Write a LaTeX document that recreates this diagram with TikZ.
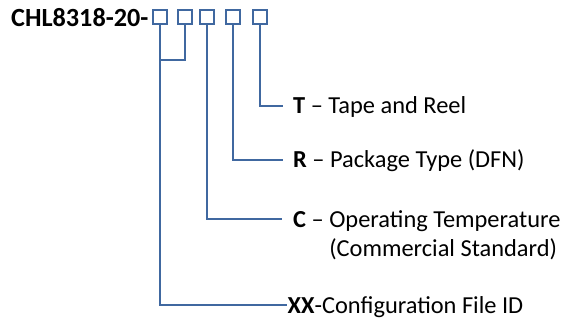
\documentclass[tikz,border=0pt]{standalone}
\usepackage{fontspec}
\setmainfont{Carlito}
\definecolor{lineblue}{RGB}{64,104,160}
\begin{document}
\begin{tikzpicture}[x=1pt,y=-1pt,
  box/.style={draw=lineblue,line width=2.2pt,minimum width=14pt,minimum height=14pt,inner sep=0pt},
  conn/.style={draw=lineblue,line width=2.6pt},
  lbl/.style={anchor=base west,inner sep=0pt,font=\fontsize{24.4}{29}\selectfont},
  ttl/.style={anchor=base west,inner sep=0pt,font=\fontsize{26.2}{31}\selectfont\bfseries}]
\useasboundingbox (0,0) rectangle (561,320);
\node[ttl] (title) at (11,27) {CHL8318-20-};
\node[box] (b1) at (160,17) {};
\node[box] (b2) at (185,17) {};
\node[box] (b3) at (207,17) {};
\node[box] (b4) at (233,17) {};
\node[box] (b5) at (260,17) {};
\coordinate (jn) at (160,60);
\coordinate (eT) at (283,106);
\coordinate (eR) at (283,160);
\coordinate (eC) at (282,219);
\coordinate (eX) at (287,305);
\node[lbl] (lt) at (293,114) {\textbf{T} – Tape and Reel};
\node[lbl] (lr) at (293,168) {\textbf{R} – Package Type (DFN)};
\node[lbl] (lc) at (293,227) {\textbf{C} – Operating Temperature};
\node[lbl] (lc2) at (293,256) {\phantom{\textbf{C} – }(Commercial Standard)};
\node[lbl] (lx) at (287.5,313) {\textbf{XX}-Configuration File ID};
\draw[conn] (b5.south) |- (eT);
\draw[conn] (b4.south) |- (eR);
\draw[conn] (b3.south) |- (eC);
\draw[conn] (b2.south) |- (jn);
\draw[conn] (b1.south) |- (eX);
\end{tikzpicture}
\end{document}
